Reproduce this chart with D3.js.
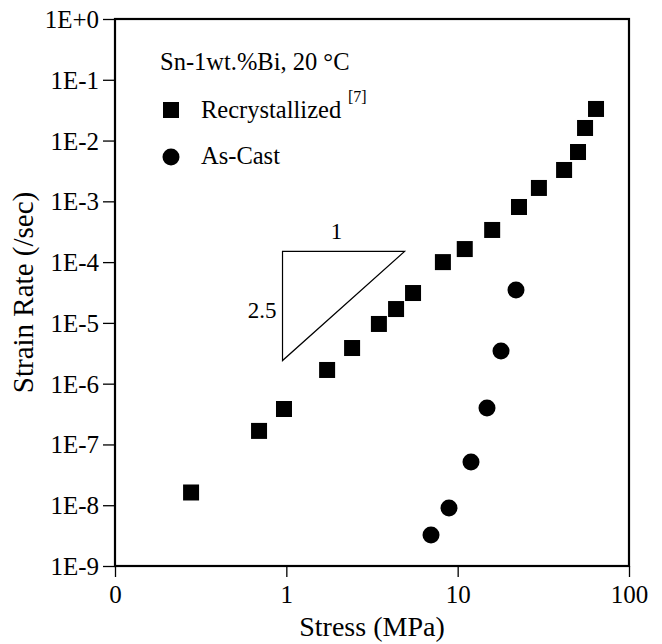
<!DOCTYPE html>
<html>
<head>
<meta charset="utf-8">
<script src="https://cdn.jsdelivr.net/npm/d3@7"></script>
<style>
    body { margin: 0; background: #fff; }
    text { font-family: "Liberation Serif", "Times New Roman", serif; fill: #000; }
</style>
</head>
<body>
<div class="container"></div>
<script>
// stress (MPa) and strain rate (/sec)
const recrystStress = [0.278, 0.693, 0.969, 1.73, 2.42, 3.47, 4.37, 5.49, 8.2, 11.0, 15.9, 22.8, 29.8, 41.8, 50.4, 55.4, 64.2],
    recrystRate = [1.62e-8, 1.67e-7, 3.83e-7, 1.68e-6, 3.86e-6, 9.6e-6, 1.69e-5, 3.1e-5, 1.0e-4, 1.64e-4, 3.38e-4, 8.07e-4, 1.66e-3, 3.28e-3, 6.48e-3, 1.61e-2, 3.31e-2],
    castStress = [6.99, 8.9, 11.96, 14.83, 17.9, 21.9],
    castRate = [3.24e-9, 9.0e-9, 5.15e-8, 3.98e-7, 3.45e-6, 3.48e-5];

const xTicks = [0.1, 1, 10, 100],
    xTickLabels = ["0", "1", "10", "100"],
    yTicks = [1e-9, 1e-8, 1e-7, 1e-6, 1e-5, 1e-4, 1e-3, 1e-2, 1e-1, 1],
    yTickLabels = ["1E-9", "1E-8", "1E-7", "1E-6", "1E-5", "1E-4", "1E-3", "1E-2", "1E-1", "1E+0"];

// slope triangle (stress, rate)
const triangle = [[0.95, 1.5e-4], [4.9, 1.5e-4], [0.95, 2.4e-6]];

const render = () => {
    const width = 662, height = 644,
        margin = {top: 19, right: 33, bottom: 78, left: 115},
        w = width - margin.left - margin.right,
        h = height - margin.top - margin.bottom;

    const svg = d3.select('.container')
        .append('svg')
        .attr('width', width)
        .attr('height', height);

    const g = svg.append('g')
        .attr('transform', `translate(${margin.left},${margin.top})`);

    const x = d3.scaleLog().domain([0.1, 100]).range([0, w]),
        y = d3.scaleLog().domain([1e-9, 1]).range([h, 0]);

    // minor ticks 2..9 in every decade
    const minors = (lo, hi) => {
        const out = [];
        for (let e = lo; e < hi; e++)
            for (let k = 2; k <= 9; k++) out.push(k * Math.pow(10, e));
        return out;
    };

    const xAxis = g.append('g').attr('transform', `translate(0,${h})`);
    xAxis.call(d3.axisBottom(x).tickValues(minors(-1, 2)).tickSize(6).tickFormat(''));
    xAxis.call(d3.axisBottom(x).tickValues(xTicks).tickSize(11).tickSizeOuter(0)
        .tickFormat((d, i) => xTickLabels[i]));

    const yAxis = g.append('g');
    yAxis.call(d3.axisLeft(y).tickValues(minors(-9, 0)).tickSize(6).tickFormat(''));
    yAxis.call(d3.axisLeft(y).tickValues(yTicks).tickSize(12).tickSizeOuter(0)
        .tickFormat((d, i) => yTickLabels[i]));

    g.selectAll('.domain').remove();
    g.selectAll('.tick line').attr('stroke', '#000').attr('stroke-width', 1.3);
    xAxis.selectAll('.tick text')
        .attr('font-size', 25)
        .attr('font-family', '"Liberation Serif", serif')
        .attr('dy', null)
        .attr('y', 37);
    yAxis.selectAll('.tick text')
        .attr('font-size', 25)
        .attr('font-family', '"Liberation Serif", serif')
        .attr('x', -16)
        .attr('dy', '0.34em');

    // frame
    g.append('rect')
        .attr('width', w)
        .attr('height', h)
        .attr('fill', 'none')
        .attr('stroke', '#000')
        .attr('stroke-width', 2.2);

    // axis titles
    svg.append('text')
        .attr('x', margin.left + w / 2)
        .attr('y', 636)
        .attr('text-anchor', 'middle')
        .attr('font-size', 28)
        .text('Stress (MPa)');

    svg.append('text')
        .attr('transform', `translate(33,${margin.top + h / 2}) rotate(-90)`)
        .attr('text-anchor', 'middle')
        .attr('font-size', 29)
        .text('Strain Rate (/sec)');

    // slope triangle
    g.append('path')
        .datum(triangle)
        .attr('d', d3.line().x(d => x(d[0])).y(d => y(d[1])).curve(d3.curveLinearClosed))
        .attr('fill', 'none')
        .attr('stroke', '#000')
        .attr('stroke-width', 1.2);

    g.append('text')
        .attr('x', (x(triangle[0][0]) + x(triangle[1][0])) / 2 - 7)
        .attr('y', y(triangle[0][1]) - 12)
        .attr('text-anchor', 'middle')
        .attr('font-size', 23)
        .text('1');

    g.append('text')
        .attr('x', x(triangle[0][0]) - 6)
        .attr('y', (y(triangle[0][1]) + y(triangle[2][1])) / 2 + 12)
        .attr('text-anchor', 'end')
        .attr('font-size', 23)
        .text('2.5');

    // data
    const recryst = recrystStress.map((s, i) => ({s, r: recrystRate[i]})),
        cast = castStress.map((s, i) => ({s, r: castRate[i]}));

    const sq = 16;
    g.selectAll('.recryst')
        .data(recryst)
        .enter()
        .append('rect')
        .attr('class', 'recryst')
        .attr('x', d => x(d.s) - sq / 2)
        .attr('y', d => y(d.r) - sq / 2)
        .attr('width', sq)
        .attr('height', sq)
        .attr('fill', '#000');

    g.selectAll('.cast')
        .data(cast)
        .enter()
        .append('circle')
        .attr('class', 'cast')
        .attr('cx', d => x(d.s))
        .attr('cy', d => y(d.r))
        .attr('r', 8.5)
        .attr('fill', '#000');

    // legend
    const legend = svg.append('g');
    legend.append('text')
        .attr('x', 160).attr('y', 70)
        .attr('font-size', 24.5)
        .text('Sn-1wt.%Bi, 20 °C');

    legend.append('rect')
        .attr('x', 171 - sq / 2).attr('y', 110 - sq / 2)
        .attr('width', sq).attr('height', sq)
        .attr('fill', '#000');
    legend.append('text')
        .attr('x', 201).attr('y', 118)
        .attr('font-size', 24.5)
        .text('Recrystallized');
    legend.append('text')
        .attr('x', 348).attr('y', 102)
        .attr('font-size', 16)
        .text('[7]');

    legend.append('circle')
        .attr('cx', 171).attr('cy', 157)
        .attr('r', 8.5)
        .attr('fill', '#000');
    legend.append('text')
        .attr('x', 201).attr('y', 164)
        .attr('font-size', 24.5)
        .text('As-Cast');
};

render();
</script>
</body>
</html>
